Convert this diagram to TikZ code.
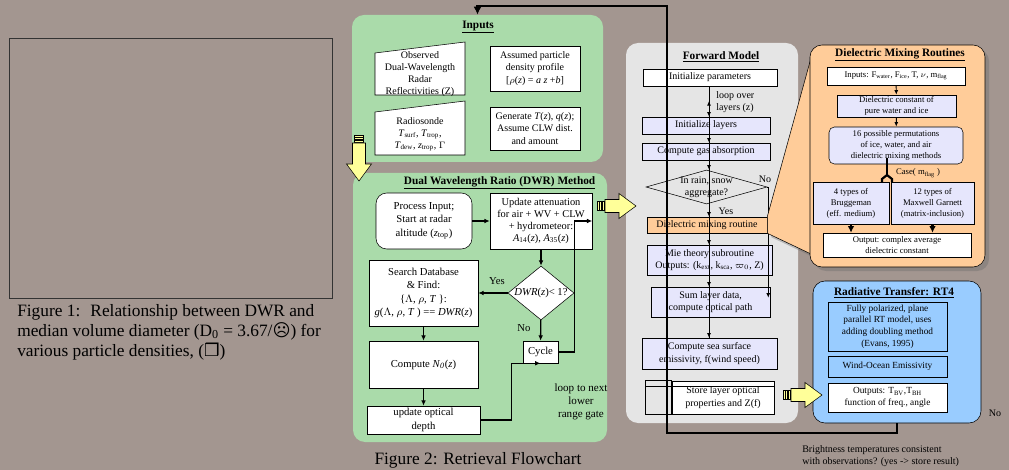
\documentclass[tikz,border=0pt]{standalone}
\usepackage{fontspec}
\setmainfont{Liberation Serif}
\newfontfamily\symfont{DejaVu Sans}
\usetikzlibrary{arrows.meta,shapes.geometric,shadows,calc}

\definecolor{bgtaupe}{RGB}{163,150,144}
\definecolor{pgreen}{RGB}{170,219,170}
\definecolor{pgrey}{RGB}{229,229,229}
\definecolor{porange}{RGB}{255,204,153}
\definecolor{pblue}{RGB}{153,204,255}
\definecolor{lav}{RGB}{230,230,252}
\definecolor{yel}{RGB}{255,255,153}

\newcommand{\fsz}[2]{\fontsize{#1}{#2}\selectfont}
% yellow block arrow: tail position, rotation, length
\newcommand{\yarrow}[3]{%
  \begin{scope}[shift={#1},rotate=#2]
    \foreach \s in {0,2.6,5.2}
      \filldraw[fill=yel,thin] (\s,-4.5) rectangle ++(1.8,9);
    \filldraw[fill=yel,thin] (8,-6.5) -- (#3-17,-6.5) -- (#3-17,-12.5) -- (#3,0)
      -- (#3-17,12.5) -- (#3-17,6.5) -- (8,6.5) -- cycle;
  \end{scope}}

\tikzset{
  px/.style 2 args={minimum width=#1*0.75pt,minimum height=#2*0.75pt},
  panel/.style={rounded corners=9pt,inner sep=0pt},
  ttl/.style={font=\fsz{8.5}{10}\bfseries},
  bx/.style={draw,thin,align=center,inner sep=1pt,font=\fsz{7.5}{9.2}},
  dbx/.style={bx,font=\fsz{8}{10}},
  sbx/.style={bx,font=\fsz{6.5}{8.3}},
  rbx/.style={bx,font=\fsz{7}{8.8}},
  lbl/.style={align=center,inner sep=0pt,font=\fsz{7.5}{9}},
  dwrarr/.style={line width=1pt,-{Latex[length=4pt,width=3.5pt]}},
  fmarr/.style={line width=0.7pt,-{Latex[length=3.5pt,width=3pt]}},
  bigarr/.style={line width=2pt,-{Latex[length=5pt,width=5pt]}},
  loopline/.style={line width=2pt,-{Latex[length=6pt,width=6pt]}},
  shade/.style={drop shadow={fill=black!60,opacity=0.35,shadow xshift=3pt,shadow yshift=-3pt}},
}

\begin{document}
\begin{tikzpicture}[x=0.75pt,y=-0.75pt]
\fill[bgtaupe] (0,0) rectangle (1009,470);
\useasboundingbox (0,0) rectangle (1009,470);

% figure 1 frame and caption
\node[draw=black!80,thin,px={323}{260},inner sep=0pt] (fig1) at (170.5,168) {};
\node[anchor=north west,align=left,inner sep=0pt,font=\fsz{13}{15}] (cap1) at (17,304)
  {Figure 1:~ Relationship between DWR and\\median volume diameter (D\textsubscript{0} = 3.67/{\symfont ☹}) for\\various particle densities, ({\symfont ❒})};

% inputs
\node[panel,fill=pgreen,px={251}{147}] (inp) at (477.5,88.5) {};
\node[ttl] (inpttl) at (478,27) {\underline{Inputs}};
\filldraw[fill=white,thin] (375,53) -- (465,42) -- (465,95) -- (375,95) -- cycle;
\node[lbl] (obs) at (420,74) {Observed\\Dual-Wavelength\\Radar\\Reflectivities (Z)};
\node[bx,fill=white,px={90}{45}] (asm) at (535,68.5) {Assumed particle\\density profile\\{}[$\rho$(\textit{z}) = \textit{a z} +\textit{b}]};
\filldraw[fill=white,thin] (375,112) -- (465,101) -- (465,155) -- (375,155) -- cycle;
\node[lbl] (rad) at (420,134) {Radiosonde\\\textit{T}\textsubscript{surf}, \textit{T}\textsubscript{trop},\\\textit{T}\textsubscript{dew}, \textit{z}\textsubscript{trop}, $\Gamma$};
\node[bx,fill=white,px={90}{43}] (gen) at (535,128.5) {Generate \textit{T}(\textit{z}), \textit{q}(\textit{z});\\Assume CLW dist.\\and amount};

% DWR method
\node[panel,fill=pgreen,px={254}{269}] (dwrp) at (480,307.5) {};
\node[ttl,anchor=east] (dwrttl) at (600,183) {\underline{Dual Wavelength Ratio (DWR) Method}};
\node[dbx,fill=white,rounded corners=8pt,px={96}{56}] (proc) at (424,221) {Process Input;\\Start at radar\\altitude (\textit{z}\textsubscript{top})};
\node[bx,font=\fsz{7.8}{9},fill=white,px={102}{56}] (upd) at (541,221) {Update attenuation\\for air + WV + CLW\\+ hydrometeor:\\\textit{A}\textsubscript{14}(\textit{z}), \textit{A}\textsubscript{35}(\textit{z})};
\node[diamond,draw,thin,fill=white,px={66}{54},inner sep=0pt] (dwr) at (541,293) {};
\node[lbl,font=\fsz{8}{10}] (dwrtxt) at (dwr) {\textit{DWR}(\textit{z})< 1?};
\node[dbx,fill=white,px={109}{66}] (search) at (423.5,293) {Search Database\\\& Find:\\\{$\Lambda$, $\rho$, \textit{T} \}:\\\textit{g}($\Lambda$, $\rho$, \textit{T} ) == \textit{DWR}(\textit{z})};
\node[dbx,fill=white,px={109}{47}] (comp) at (423.5,364.5) {Compute \textit{N}\textsubscript{\textit{0}}(\textit{z})};
\node[dbx,fill=white,px={113}{28}] (upod) at (423.5,420) {update optical\\depth};
\node[dbx,fill=white,px={35}{22}] (cycle) at (540.5,352) {Cycle};
\draw[dwrarr] (proc) -- (upd);
\draw[dwrarr] (upd) -- (dwr);
\draw[dwrarr] (dwr) -- (search);
\draw[dwrarr] (search) -- (comp);
\draw[dwrarr] (comp) -- (upod);
\draw[dwrarr] (dwr) -- (cycle);
\draw[dwrarr] (upod.east) -- ++(31,0) |- (cycle.south);
\draw[dwrarr] (cycle.east) -- ++(16,0) |- (upd.east);
\node[lbl,font=\fsz{8}{10}] (yes1) at (497,281) {Yes};
\node[lbl,font=\fsz{8}{10}] (no1) at (524,328) {No};
\node[lbl,font=\fsz{8.3}{10}] (nextgate) at (581,402) {loop to next\\lower\\range gate};
\node[font=\fsz{13}{15}] (cap2) at (478,460) {Figure 2: Retrieval Flowchart};

% forward model
\node[panel,fill=pgrey,px={172}{380}] (fmp) at (712,233) {};
\node[ttl] (fmttl) at (721,57) {\underline{Forward Model}};
\node[bx,fill=white,px={134}{17}] (params) at (710,77.5) {Initialize parameters};
\node[bx,fill=lav,px={128}{17}] (layers) at (706,125.5) {Initialize layers};
\node[bx,fill=lav,px={128}{17}] (gas) at (706,151.5) {Compute gas absorption};
\node[diamond,draw,thin,px={121}{34},inner sep=0pt] (rain) at (706.5,187) {};
\node[lbl] (raintxt) at (rain) {In rain, snow\\aggregate?};
\node[bx,fill=porange,px={120}{16}] (dielec) at (707,225) {Dielectric mixing routine};
\node[bx,fill=lav,px={125}{30}] (mie) at (709.5,260) {Mie theory subroutine\\Outputs: (k\textsubscript{ext}, k\textsubscript{sca}, $\varpi_0$, Z)};
\node[bx,fill=lav,px={119}{30}] (sum) at (710.5,302) {Sum layer data,\\compute optical path};
\node[bx,fill=lav,px={135}{31}] (sea) at (709.5,353.5) {Compute sea surface\\emissivity, f(wind speed)};
\node[bx,fill=white,px={102}{33}] (store) at (723,397.5) {Store layer optical\\properties and Z(f)};
\draw[thin] ([xshift=-19.5pt]store.south west) rectangle (store.north west);
\draw[thin] ([xshift=-19.5pt,yshift=-4.5pt]store.north west) -- ([yshift=-4.5pt]store.north east);
\coordinate (spine) at (709,0);
\draw[fmarr] (params.south -| spine) -- (layers.north -| spine);
\draw[fmarr] (layers.south -| spine) -- (gas.north -| spine);
\draw[fmarr] (gas.south -| spine) -- (rain.north -| spine);
\draw[fmarr] (rain.south -| spine) -- (dielec.north -| spine);
\draw[fmarr] (dielec.south -| spine) -- (mie.north -| spine);
\draw[fmarr] (mie.south -| spine) -- (sum.north -| spine);
\draw[fmarr] (sum.south -| spine) -- (sea.north -| spine);
\coordinate (loopin) at (709,101);
\draw[fmarr] (sea.north -| spine) -- (loopin);
\coordinate (noend) at ($(sum.north east)+(-2,11)$);
\draw[fmarr] (rain.east) -| (noend);
\node[lbl] (yes2) at (726,211) {Yes};
\node[lbl] (no2) at (765,179) {No};
\node[lbl,align=left,anchor=west] (loopz) at (716,102) {loop over\\layers (z)};

% dielectric mixing routines
\coordinate (dmtop) at (811,58);
\coordinate (dmbot) at (811,254);
\filldraw[fill=porange,thin,shade] (dmtop) -- (dielec.north east) -- (dielec.south east) -- (dmbot) -- cycle;
\node[panel,draw,thin,fill=porange,px={175}{222},shade] (dmp) at (897.5,156) {};
\node[ttl] (dmttl) at (900,55) {\underline{Dielectric Mixing Routines}};
\node[sbx,fill=white,px={138}{18}] (din) at (896,76) {Inputs: F\textsubscript{water}, F\textsubscript{ice}, T, $\nu$, m\textsubscript{flag}};
\node[sbx,fill=lav,px={119}{22}] (dcon) at (896.5,106) {Dielectric constant of\\pure water and ice};
\node[sbx,fill=lav,rounded corners=4pt,px={134}{37}] (perm) at (896,145.5) {16 possible permutations\\of ice, water, and air\\dielectric mixing methods};
\node[sbx,fill=lav,px={76}{42}] (brug) at (851,203) {4 types of\\Bruggeman\\(eff. medium)};
\node[sbx,fill=lav,px={83}{42}] (maxw) at (932.5,203) {12 types of\\Maxwell Garnett\\(matrix-inclusion)};
\node[sbx,fill=white,px={148}{24}] (dout) at (897,245) {Output: complex average\\dielectric constant};
\draw[fmarr] (din) -- (dcon);
\draw[fmarr] (dcon) -- (perm);
\coordinate (fork) at (887,175);
\draw[line width=2pt] (fork |- perm.south) ++(0,-6) -- (fork);
\draw[line width=1.6pt] (fork) -- ++(-5,4) -- ++(0,3);
\draw[line width=1.6pt] (fork) -- ++(5,4) -- ++(0,3);
\node[lbl,font=\fsz{6.5}{8}] (case) at (918,173) {Case( m\textsubscript{flag} )};
\draw[bigarr] (brug.south) -- (brug.south |- dout.north);
\draw[bigarr] (maxw.south) -- (maxw.south |- dout.north);

% radiative transfer
\node[panel,draw,thin,fill=pblue,px={168}{142}] (rtp) at (897,352) {};
\node[ttl] (rtttl) at (894,293) {\underline{Radiative Transfer: RT4}};
\node[rbx,fill=pblue,px={119}{49}] (rt1) at (887.5,326.5) {Fully polarized, plane\\parallel RT model, uses\\adding doubling method\\(Evans, 1995)};
\node[rbx,fill=pblue,px={119}{21}] (rt2) at (887.5,366.5) {Wind-Ocean Emissivity};
\node[rbx,fill=white,px={119}{29}] (rt3) at (887.5,397.5) {Outputs: T\textsubscript{BV},T\textsubscript{BH}\\function of freq., angle};
\node[lbl] (no3) at (995,413) {No};
\node[lbl,align=left,anchor=west] (bt) at (802,456.5) {Brightness temperatures consistent\\with observations? (yes -> store result)};

% block arrows between stages
\yarrow{(359,135)}{-90}{46}
\yarrow{(597,206)}{0}{39}
\yarrow{(783,395)}{0}{39}

% feedback loop
\coordinate (lpA) at (667,433);
\coordinate (lpB) at (667,6);
\draw[loopline] (rtp.south) |- (lpA) -- (lpB) -| (inp.north);
\end{tikzpicture}
\end{document}
